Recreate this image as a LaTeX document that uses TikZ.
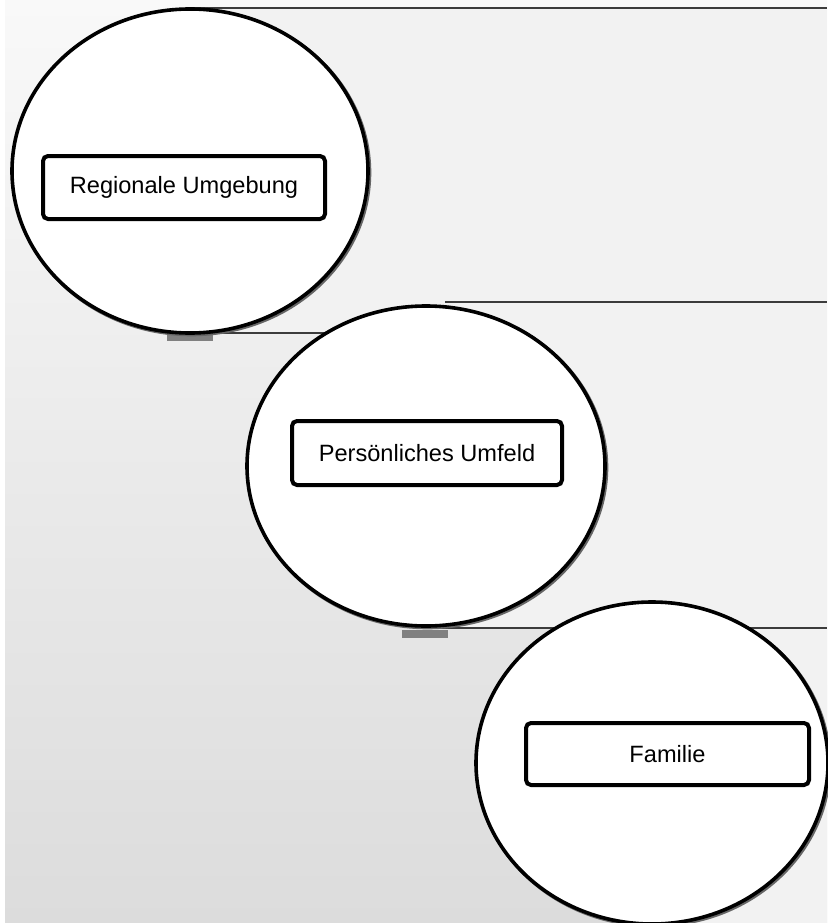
\documentclass[tikz,border=0pt]{standalone}
\usepackage{fontspec}
\setmainfont{Liberation Sans}
\usetikzlibrary{shapes.geometric}
\definecolor{bgtop}{HTML}{F9F9F9}
\definecolor{bgbot}{HTML}{DCDCDC}
\definecolor{panelfill}{HTML}{F2F2F2}
\definecolor{panelline}{HTML}{3C3C3C}
\definecolor{barcol}{HTML}{808080}
\tikzset{
  circshape/.style={ellipse, draw=black, line width=3.6pt, fill=white, inner sep=0pt},
  circshadow/.style={ellipse, draw=black!60, line width=3.6pt, inner sep=0pt},
  labelbox/.style={draw=black, line width=4pt, rounded corners=5pt, fill=white,
    font=\fontsize{23.6}{27}\selectfont, inner sep=0pt},
  panelbox/.style={fill=panelfill},
  panelrule/.style={draw=panelline, line width=1.1pt},
  gbar/.style={fill=barcol}
}
\begin{document}
\begin{tikzpicture}[x=1pt,y=-1pt]
\useasboundingbox (0,0) rectangle (827,923);
\fill[white] (0,0) rectangle (827,923);
\shade[top color=bgtop, bottom color=bgbot] (5,0) rectangle (827,923);
% panels
\fill[panelbox] (190,8) rectangle (827,333);
\fill[panelbox] (430,302) rectangle (827,628);
\fill[panelbox] (650,628) rectangle (827,923);
\draw[panelrule] (190,8) -- (827,8);
\draw[panelrule] (190,333) -- (330,333);
\draw[panelrule] (445,302) -- (827,302);
\draw[panelrule] (430,628) -- (827,628);
% gray bars
\fill[gbar] (167,334) rectangle (213,341);
\fill[gbar] (402,630) rectangle (448,638);
% shadows
\node[circshadow, minimum width=356pt, minimum height=324pt] (s1) at (191.5,172.5) {};
\node[circshadow, minimum width=358pt, minimum height=320pt] (s2) at (427.5,467.5) {};
\node[circshadow, minimum width=352pt, minimum height=322pt] (s3) at (653.5,764.5) {};
% circles
\node[circshape, minimum width=356pt, minimum height=324pt] (c1) at (190,171) {};
\node[circshape, minimum width=358pt, minimum height=320pt] (c2) at (426,466) {};
\node[circshape, minimum width=352pt, minimum height=322pt] (c3) at (652,763) {};
% label boxes
\node[labelbox, minimum width=282pt, minimum height=63pt] (b1) at (184,187.5) {Regionale Umgebung};
\node[labelbox, minimum width=270pt, minimum height=64pt] (b2) at (427,453) {Persönliches Umfeld};
\node[labelbox, minimum width=283pt, minimum height=62pt] (b3) at (667.5,754) {Familie};
\end{tikzpicture}
\end{document}
